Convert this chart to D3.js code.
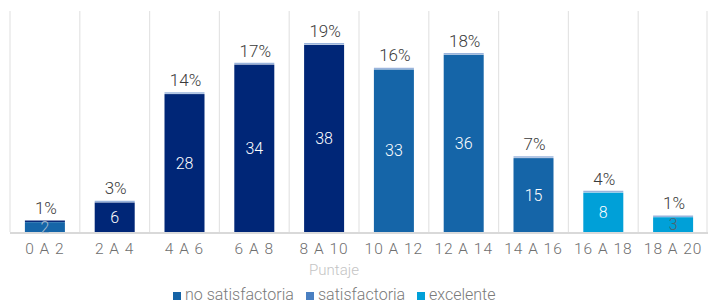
<!DOCTYPE html>
<html>
<head>
<meta charset="utf-8">
<script src="https://cdn.jsdelivr.net/npm/d3@7"></script>
<style>
  body { margin: 0; background: #fff; }
  svg { display: block; font-family: Roboto, sans-serif; font-weight: 300; }
</style>
</head>
<body>
<div class="canvas"></div>
<script>
// data
var categories = ['0 A 2', '2 A 4', '4 A 6', '6 A 8', '8 A 10', '10 A 12', '12 A 14', '14 A 16', '16 A 18', '18 A 20'];
var counts = [2, 6, 28, 34, 38, 33, 36, 15, 8, 3];
var percents = [1, 3, 14, 17, 19, 16, 18, 7, 4, 1];
var percentExact = counts.map(function (c) { return c / d3.sum(counts) * 100; });
var groups = ['satisfactoria', 'no satisfactoria', 'no satisfactoria', 'no satisfactoria', 'no satisfactoria',
              'satisfactoria', 'satisfactoria', 'satisfactoria', 'excelente', 'excelente'];
var legendNames = ['no satisfactoria', 'satisfactoria', 'excelente'];

var barColor = { 'no satisfactoria': '#002677', 'satisfactoria': '#1565a8', 'excelente': '#00a0d8' };
var legendColor = { 'no satisfactoria': '#1563a6', 'satisfactoria': '#4a7fc1', 'excelente': '#00a0d8' };

var W = 708, H = 304;
var svg = d3.select(".canvas").append("svg").attr("width", W).attr("height", H);

var x = d3.scaleBand().domain(categories).range([10, 708]).paddingInner(0).paddingOuter(0);
var y = d3.scaleLinear().domain([0, 40]).range([232, 35]);
var y2 = d3.scaleLinear().domain([0, 20]).range([232, 32]);
var barW = 40;

// vertical gridlines between categories
var edges = categories.map(function (c) { return x(c); }).concat([x.range()[1] - 1]);
svg.selectAll('.grid').data(edges).enter().append('line')
    .attr('x1', function (d) { return d; })
    .attr('x2', function (d) { return d; })
    .attr('y1', 11).attr('y2', 232)
    .attr('stroke', '#e4e4e4').attr('stroke-width', 1.2);

// bars
svg.selectAll('.bar').data(counts).enter().append('rect')
    .attr('x', function (d, i) { return x(categories[i]) + x.bandwidth() / 2 - barW / 2; })
    .attr('y', function (d) { return y(d); })
    .attr('width', barW)
    .attr('height', function (d) { return y(0) - y(d); })
    .style('fill', function (d, i) { return barColor[groups[i]]; });

// baseline
svg.append('line').attr('x1', 10).attr('x2', 708).attr('y1', 233).attr('y2', 233)
    .attr('stroke', '#d9d9d9').attr('stroke-width', 2);

// percent dashes
svg.selectAll('.dash').data(percentExact).enter().append('line')
    .attr('x1', function (d, i) { return x(categories[i]) + x.bandwidth() / 2 - barW / 2; })
    .attr('x2', function (d, i) { return x(categories[i]) + x.bandwidth() / 2 + barW / 2; })
    .attr('y1', function (d) { return y2(d) - 1; })
    .attr('y2', function (d) { return y2(d) - 1; })
    .attr('stroke', function (d, i) { return i == 0 ? '#0a2a7a' : '#9ab4dc'; })
    .attr('stroke-width', 1.5);

// percent labels
svg.selectAll('.pct').data(percents).enter().append('text')
    .text(function (d) { return d + '%'; })
    .attr('x', function (d, i) { return x(categories[i]) + x.bandwidth() / 2 + 1; })
    .attr('y', function (d, i) { return y2(percentExact[i]) - 8; })
    .attr('text-anchor', 'middle')
    .attr('font-size', 17)
    .attr('fill', '#3b3b3b');

// count labels inside bars
svg.selectAll('.val').data(counts).enter().append('text')
    .text(function (d) { return d; })
    .attr('x', function (d, i) { return x(categories[i]) + x.bandwidth() / 2; })
    .attr('y', function (d) { return (y(d) + y(0)) / 2; })
    .attr('dy', '0.36em')
    .attr('text-anchor', 'middle')
    .attr('font-size', 16)
    .attr('fill', function (d, i) { return i == 0 ? '#a9bccd' : (i == 9 ? '#4f6470' : '#ffffff'); });

// x axis labels
var xAxis = d3.axisBottom(x).tickSize(0).tickPadding(9);
var gx = svg.append('g').attr('transform', 'translate(0,234)').call(xAxis);
gx.select('.domain').remove();
gx.selectAll('text')
    .attr('font-size', 15.5)
    .attr('font-family', 'Roboto, sans-serif')
    .attr('font-weight', 300)
    .style('letter-spacing', '1px')
    .attr('fill', '#6f6f6f');

// axis title
svg.append('text').text('Puntaje')
    .attr('x', 334).attr('y', 275)
    .attr('text-anchor', 'middle')
    .attr('font-size', 15)
    .attr('fill', '#c4c4c4');

// legend
var legendX = [173, 306, 417];
var lg = svg.selectAll('.leg').data(legendNames).enter().append('g')
    .attr('transform', function (d, i) { return 'translate(' + legendX[i] + ',0)'; });
lg.append('rect').attr('x', 0).attr('y', 292).attr('width', 8).attr('height', 8)
    .style('fill', function (d) { return legendColor[d]; });
lg.append('text').text(function (d) { return d; })
    .attr('x', 12).attr('y', 300)
    .attr('font-size', 16)
    .attr('fill', '#7a7a7a');
</script>
</body>
</html>
